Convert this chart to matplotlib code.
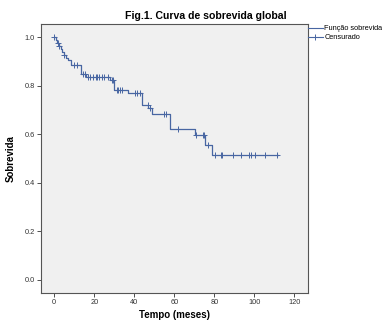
import matplotlib
matplotlib.use("Agg")
import matplotlib.pyplot as plt
from matplotlib.lines import Line2D
import numpy as np

plt.rcParams['font.family'] = ['Liberation Sans', 'DejaVu Sans']

# Step function: time of each change and survival value after it
step_times = [0, 0.8, 1.5, 2.5, 3.2, 4, 5, 6, 7, 8.5, 13.3, 16, 28, 30, 37, 44, 47, 49, 57.8, 70.3, 75.3, 78.7]
step_surv = [1.0, 0.988, 0.976, 0.964, 0.952, 0.940, 0.928, 0.916, 0.904, 0.884, 0.848, 0.836,
             0.824, 0.784, 0.770, 0.722, 0.709, 0.683, 0.621, 0.595, 0.557, 0.515]
end_time = 112

# Censored observations (time)
censor_times = [0, 1.7, 2.5, 5, 9.8, 11.5, 14.5, 15.3, 16.7, 17.8, 19.5, 20.7, 21.5, 22.3, 23.7,
                25, 26.7, 28.7, 29.5, 31.2, 32, 32.8, 33.7, 40.3, 41.2, 42.8, 46.7, 47.8, 55, 55.8,
                61.7, 70.8, 74.2, 75, 77, 80.3, 83.2, 84, 89.5, 93.3, 97.3, 98.3, 100.3, 105.3, 111.5]

x_ticks = [0, 20, 40, 60, 80, 100, 120]
y_ticks = [0.0, 0.2, 0.4, 0.6, 0.8, 1.0]

title = "Fig.1. Curva de sobrevida global"
xlabel = "Tempo (meses)"
ylabel = "Sobrevida"
legend_labels = ["Função sobrevida", "Censurado"]

color = '#4866A2'

fig = plt.figure(figsize=(3.82, 3.23), dpi=100)
ax = fig.add_axes([41/382, 1-293/323, (308-41)/382, (293-24)/323])
ax.set_facecolor('#F0F0F0')

xs = list(step_times) + [end_time]
ys = list(step_surv) + [step_surv[-1]]
ax.step(xs, ys, where='post', color=color, lw=0.9)

st = np.array(step_times)
sv = np.array(step_surv)
cens_y = [sv[np.searchsorted(st, t, side='right') - 1] for t in censor_times]
ax.plot(censor_times, cens_y, linestyle='none', marker='+', color=color, ms=5, mew=0.7)

ax.set_xlim(-6.65, 126.8)
ax.set_ylim(-0.054, 1.054)
ax.set_xticks(x_ticks)
ax.set_xticklabels([str(v) for v in x_ticks])
ax.set_yticks(y_ticks)
ax.set_yticklabels([f"{v:.1f}" for v in y_ticks])
ax.tick_params(axis='both', labelsize=5.3, colors='#333333', length=3, width=0.6, pad=1.5)
for s in ax.spines.values():
    s.set_color('#555555')
    s.set_linewidth(0.8)

ax.set_xlabel(xlabel, fontsize=7, fontweight='bold', labelpad=3)
ax.set_ylabel(ylabel, fontsize=7, fontweight='bold', labelpad=6)
fig.text(206/382, 1-16/323, title, ha='center', va='center', fontsize=7.6, fontweight='bold')

handles = [Line2D([0], [0], color=color, lw=0.8),
           Line2D([0], [0], color=color, lw=0.8, marker='+', ms=4.5, mew=0.7)]
fig.legend(handles, legend_labels, loc='upper left', bbox_to_anchor=(308/382, 1-25/323),
           frameon=False, fontsize=5.3, handlelength=2.0, handletextpad=0.2, labelspacing=0.25,
           borderaxespad=0, borderpad=0)

fig.savefig('out.png', dpi=100)
